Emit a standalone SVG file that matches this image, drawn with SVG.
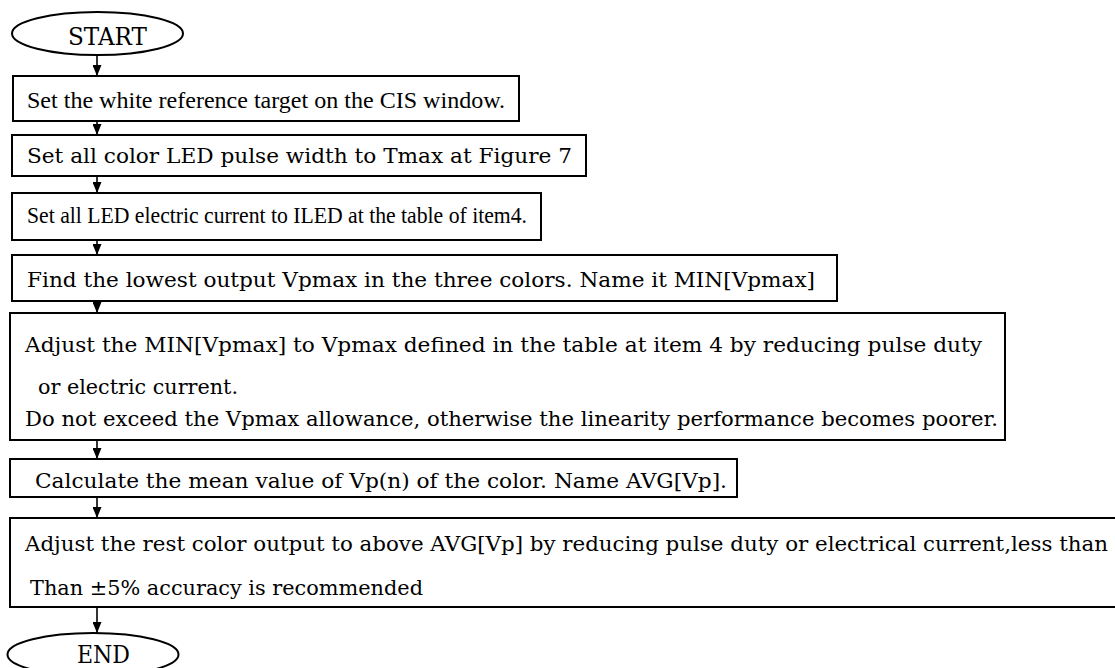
<svg xmlns="http://www.w3.org/2000/svg" width="1115" height="668" viewBox="0 0 1115 668">
<style>
.box{fill:#fff;stroke:#000;stroke-width:2}
.term{fill:#fff;stroke:#000;stroke-width:2}
.c{font-family:"DejaVu Serif","Liberation Serif",serif;font-size:20.5px;fill:#000}
.t{font-family:"Liberation Serif","Times New Roman",serif;font-size:24px;fill:#000}
.k{font-family:"DejaVu Serif","Liberation Serif",serif;font-size:24px;fill:#000}
.conn{stroke:#000;stroke-width:1.6;fill:none;marker-end:url(#ah)}
</style>
<defs>
<marker id="ah" markerUnits="userSpaceOnUse" viewBox="0 0 11 9" markerWidth="11" markerHeight="9" refX="11" refY="4.5" orient="auto">
<path d="M0,0 L11,4.5 L0,9 z" fill="#000"/>
</marker>
</defs>
<rect width="1115" height="668" fill="#fff"/>
<g id="connectors">
<line class="conn" x1="97" y1="55" x2="97" y2="76"/>
<line class="conn" x1="97" y1="121" x2="97" y2="135"/>
<line class="conn" x1="97" y1="176" x2="97" y2="193"/>
<line class="conn" x1="97" y1="240" x2="97" y2="255"/>
<line class="conn" x1="97" y1="301" x2="97" y2="313"/>
<line class="conn" x1="97" y1="440" x2="97" y2="459"/>
<line class="conn" x1="97" y1="497" x2="97" y2="518"/>
<line class="conn" x1="97" y1="607" x2="97" y2="633"/>
</g>
<g id="start">
<ellipse class="term" cx="97.5" cy="33.5" rx="85.5" ry="21.5"/>
<text class="k" x="68" y="45" textLength="79" lengthAdjust="spacingAndGlyphs">START</text>
</g>
<g id="step1">
<rect class="box" x="13" y="76" width="506" height="45"/>
<text class="t" x="27" y="108" textLength="478" lengthAdjust="spacingAndGlyphs">Set the white reference target on the CIS window.</text>
</g>
<g id="step2">
<rect class="box" x="12" y="135" width="574" height="41"/>
<text class="c" x="27" y="163" textLength="545" lengthAdjust="spacingAndGlyphs">Set all color LED pulse width to Tmax at Figure 7</text>
</g>
<g id="step3">
<rect class="box" x="12" y="193" width="529" height="47"/>
<text class="t" x="27" y="223" textLength="500" lengthAdjust="spacingAndGlyphs">Set all LED electric current to ILED at the table of item4.</text>
</g>
<g id="step4">
<rect class="box" x="12" y="255" width="825" height="46"/>
<text class="c" x="27" y="287" textLength="788" lengthAdjust="spacingAndGlyphs">Find the lowest output Vpmax in the three colors. Name it MIN[Vpmax]</text>
</g>
<g id="step5">
<rect class="box" x="10" y="313" width="995" height="127"/>
<text class="c" x="25" y="352" textLength="957" lengthAdjust="spacingAndGlyphs">Adjust the MIN[Vpmax] to Vpmax defined in the table at item 4 by reducing pulse duty</text>
<text class="c" x="38" y="394" textLength="200" lengthAdjust="spacingAndGlyphs">or electric current.</text>
<text class="c" x="25" y="426" textLength="973" lengthAdjust="spacingAndGlyphs">Do not exceed the Vpmax allowance, otherwise the linearity performance becomes poorer.</text>
</g>
<g id="step6">
<rect class="box" x="10" y="459" width="727" height="38"/>
<text class="c" x="35" y="488" textLength="692" lengthAdjust="spacingAndGlyphs">Calculate the mean value of Vp(n) of the color. Name AVG[Vp].</text>
</g>
<g id="step7">
<rect class="box" x="10" y="518" width="1110" height="89"/>
<text class="c" x="25" y="551" textLength="1083" lengthAdjust="spacingAndGlyphs">Adjust the rest color output to above AVG[Vp] by reducing pulse duty or electrical current,less than</text>
<text class="c" x="30" y="595" textLength="393" lengthAdjust="spacingAndGlyphs">Than ±5% accuracy is recommended</text>
</g>
<g id="end">
<ellipse class="term" cx="93" cy="654.5" rx="85.5" ry="21.5"/>
<text class="k" x="77" y="663" textLength="53" lengthAdjust="spacingAndGlyphs">END</text>
</g>
</svg>
